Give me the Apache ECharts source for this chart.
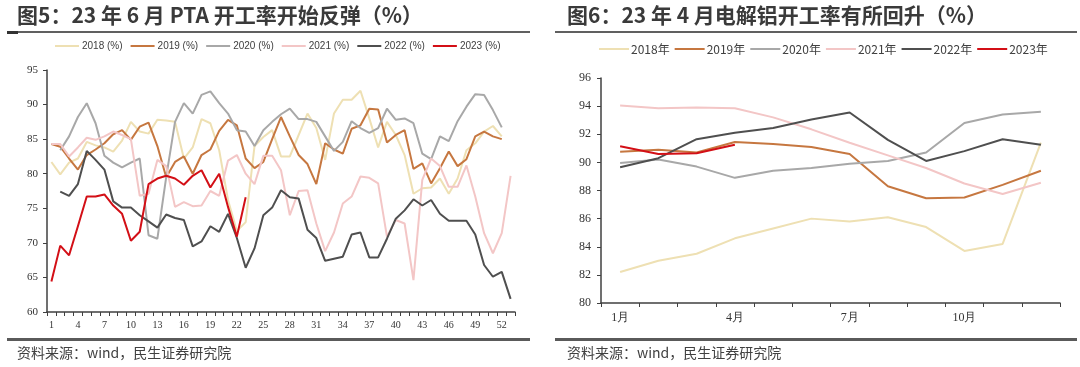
<!DOCTYPE html>
<html><head><meta charset="utf-8">
<script src="https://cdn.jsdelivr.net/npm/echarts@6/dist/echarts.min.js"></script>
<style>html,body{margin:0;padding:0;background:#fff}#c{width:1080px;height:367px}</style>
</head><body><div id="c"></div>
<script>
// ---- Left chart: PTA weekly operating rate (%) ----
const weeks = ['1','2','3','4','5','6','7','8','9','10','11','12','13','14','15','16','17','18','19','20','21','22','23','24','25','26','27','28','29','30','31','32','33','34','35','36','37','38','39','40','41','42','43','44','45','46','47','48','49','50','51','52','53'];
const ptaNames = ['2018 (%)','2019 (%)','2020 (%)','2021 (%)','2022 (%)','2023 (%)'];
const pta2018 = [81.7,79.9,81.6,82.2,84.6,84.1,83.8,83.2,84.8,87.5,86.1,85.8,87.8,87.7,87.5,82.2,83.8,87.9,87.3,83.4,76.2,71.7,73.0,84.0,85.3,86.3,82.5,82.5,85.6,88.7,86.6,82.0,88.7,90.7,90.7,92.0,88.0,83.8,87.5,85.6,82.7,77.1,77.9,78.0,79.3,77.1,79.3,83.4,84.4,86.1,86.9,85.4];
const pta2019 = [84.3,83.9,82.2,80.6,82.7,83.5,84.4,85.7,86.3,84.9,86.8,87.4,84.0,79.5,81.7,82.5,80.0,82.7,83.5,86.2,87.8,87.0,82.2,80.8,81.7,85.0,88.2,85.4,82.7,81.4,78.5,84.4,83.5,82.9,86.5,87.0,89.4,89.3,84.5,85.6,86.3,80.7,81.5,78.6,80.8,83.2,81.1,82.1,85.4,86.1,85.4,85.0];
const pta2020 = [null,83.4,85.4,88.2,90.2,87.3,82.6,81.6,80.9,81.6,82.2,71.1,70.6,79.5,87.5,90.2,88.7,91.4,91.9,90.2,88.7,86.3,86.1,84.0,86.3,87.5,88.6,89.4,87.9,87.9,87.5,85.4,83.3,84.6,87.6,86.6,85.9,86.6,89.4,87.8,88.0,87.3,82.9,82.1,85.4,84.7,87.6,89.7,91.5,91.4,89.2,86.7];
const pta2021 = [84.3,84.3,82.5,83.8,85.2,84.9,85.4,86.1,85.6,85.0,76.8,77.1,82.0,81.1,75.2,75.9,75.3,75.4,77.5,76.8,81.9,82.7,80.0,78.5,82.6,82.6,80.5,74.0,77.5,77.6,72.8,68.8,71.5,75.7,76.7,79.6,79.4,78.6,70.9,73.3,72.8,64.6,79.1,82.2,81.1,78.1,78.1,81.2,76.7,71.4,68.5,71.4,79.7];
const pta2022 = [null,77.4,76.8,78.5,83.3,82.0,80.6,76.0,75.1,75.1,74.0,73.1,72.2,74.1,73.6,73.3,69.5,70.2,72.4,71.6,74.2,70.7,66.4,69.2,74.0,75.1,77.6,76.6,76.4,71.9,70.7,67.4,67.7,68.0,71.2,71.5,67.9,67.9,70.6,73.5,74.7,76.3,75.4,76.2,74.2,73.2,73.2,73.2,71.2,66.8,65.1,65.8,61.9];
const pta2023 = [64.4,69.6,68.2,72.4,76.7,76.7,77.0,75.4,74.2,70.3,71.6,78.5,79.3,79.7,79.3,78.4,79.7,80.5,78.0,80.0,75.2,70.9,76.6];

// ---- Right chart: electrolytic aluminium monthly operating rate (%) ----
const months = ['1月','2月','3月','4月','5月','6月','7月','8月','9月','10月','11月','12月'];
const alNames = ['2018年','2019年','2020年','2021年','2022年','2023年'];
const al2018 = [82.2,83.0,83.5,84.6,85.3,86.0,85.8,86.1,85.4,83.7,84.2,91.4];
const al2019 = [90.75,90.9,90.7,91.45,91.3,91.1,90.6,88.3,87.45,87.5,88.4,89.4];
const al2020 = [89.95,90.2,89.7,88.9,89.4,89.6,89.9,90.1,90.7,92.8,93.4,93.6];
const al2021 = [94.05,93.85,93.9,93.85,93.2,92.35,91.4,90.5,89.6,88.5,87.75,88.55];
const al2022 = [89.65,90.3,91.65,92.1,92.45,93.05,93.55,91.6,90.1,90.8,91.65,91.25];
const al2023 = [91.15,90.6,90.65,91.25];

const colors = ['#EEE0B3','#C67740','#A8A8A8','#F3C6C6','#4F4F4F','#D30F16'];
const ptaData = [pta2018,pta2019,pta2020,pta2021,pta2022,pta2023];
const alData = [al2018,al2019,al2020,al2021,al2022,al2023];

const axisCol = '#404040';
const serif = '"Liberation Serif","Times New Roman",serif';
const cjk = '"Noto Sans CJK SC","Noto Sans",sans-serif';

const series = [];
ptaNames.forEach((n,i)=>series.push({name:n,type:'line',xAxisIndex:0,yAxisIndex:0,data:ptaData[i],
  symbol:'none',lineStyle:{color:colors[i],width:2},itemStyle:{color:colors[i]},z:2+i,animation:false}));
alNames.forEach((n,i)=>series.push({name:n,type:'line',xAxisIndex:1,yAxisIndex:1,data:alData[i],
  symbol:'none',lineStyle:{color:colors[i],width:2},itemStyle:{color:colors[i]},z:2+i,animation:false}));

const chart = echarts.init(document.getElementById('c'),null,{renderer:'canvas'});
chart.setOption({
  animation:false,
  backgroundColor:'#fff',
  graphic:[
    {type:'text',left:17,top:5,style:{text:'图5：23 年 6 月 PTA 开工率开始反弹（%）',font:'bold 21px '+cjk,fill:'#3a3a3a'}},
    {type:'text',left:567,top:5,style:{text:'图6：23 年 4 月电解铝开工率有所回升（%）',font:'bold 21px '+cjk,fill:'#3a3a3a'}},
    {type:'rect',shape:{x:7,y:31,width:523,height:2},style:{fill:'#606060'}},
    {type:'rect',shape:{x:7,y:31,width:11,height:3},style:{fill:'#333'}},
    {type:'rect',shape:{x:555,y:31,width:522,height:2},style:{fill:'#606060'}},
    {type:'rect',shape:{x:7,y:338,width:523,height:3},style:{fill:'#5a5a5a'}},
    {type:'rect',shape:{x:555,y:338,width:522,height:3},style:{fill:'#5a5a5a'}},
    {type:'text',left:17,top:346,style:{text:'资料来源：wind，民生证券研究院',font:'14px '+cjk,fill:'#404040'}},
    {type:'text',left:567,top:346,style:{text:'资料来源：wind，民生证券研究院',font:'14px '+cjk,fill:'#404040'}}
  ],
  legend:[
    {data:ptaNames,top:41,left:55,padding:0,itemWidth:24,itemHeight:2,itemGap:8,icon:'rect',
     textStyle:{fontSize:10,fontFamily:'"Liberation Sans",sans-serif',color:'#404040',padding:[0,0,0,-2]}},
    {data:alNames,top:43,left:599,padding:0,width:480,itemWidth:30,itemHeight:2,itemGap:5,icon:'rect',
     textStyle:{fontSize:12,fontFamily:cjk,color:'#404040',padding:[0,0,0,-3]}}
  ],
  grid:[
    {left:47,top:70,width:468,height:242},
    {left:601,top:78,width:459,height:225}
  ],
  xAxis:[
    {type:'category',gridIndex:0,data:weeks,boundaryGap:true,
     axisLine:{lineStyle:{color:axisCol,width:1.5}},
     axisTick:{show:true,interval:0,length:4,lineStyle:{color:axisCol}},
     axisLabel:{interval:2,fontSize:10,fontFamily:serif,color:'#333',margin:8}},
    {type:'category',gridIndex:1,data:months,boundaryGap:true,
     axisLine:{lineStyle:{color:axisCol,width:1.5}},
     axisTick:{show:true,interval:0,length:4,lineStyle:{color:axisCol}},
     axisLabel:{interval:2,fontSize:12,fontFamily:serif,color:'#333',margin:9}}
  ],
  yAxis:[
    {type:'value',gridIndex:0,min:60,max:95,interval:5,
     axisLine:{show:true,lineStyle:{color:axisCol,width:1.5}},
     axisTick:{show:true,length:4,lineStyle:{color:axisCol}},
     splitLine:{show:false},
     axisLabel:{fontSize:11,fontFamily:serif,color:'#333',margin:9}},
    {type:'value',gridIndex:1,min:80,max:96,interval:2,
     axisLine:{show:true,lineStyle:{color:axisCol,width:1.5}},
     axisTick:{show:true,length:4,lineStyle:{color:axisCol}},
     splitLine:{show:false},
     axisLabel:{fontSize:12,fontFamily:serif,color:'#333',margin:10}}
  ],
  series:series
});
</script></body></html>
